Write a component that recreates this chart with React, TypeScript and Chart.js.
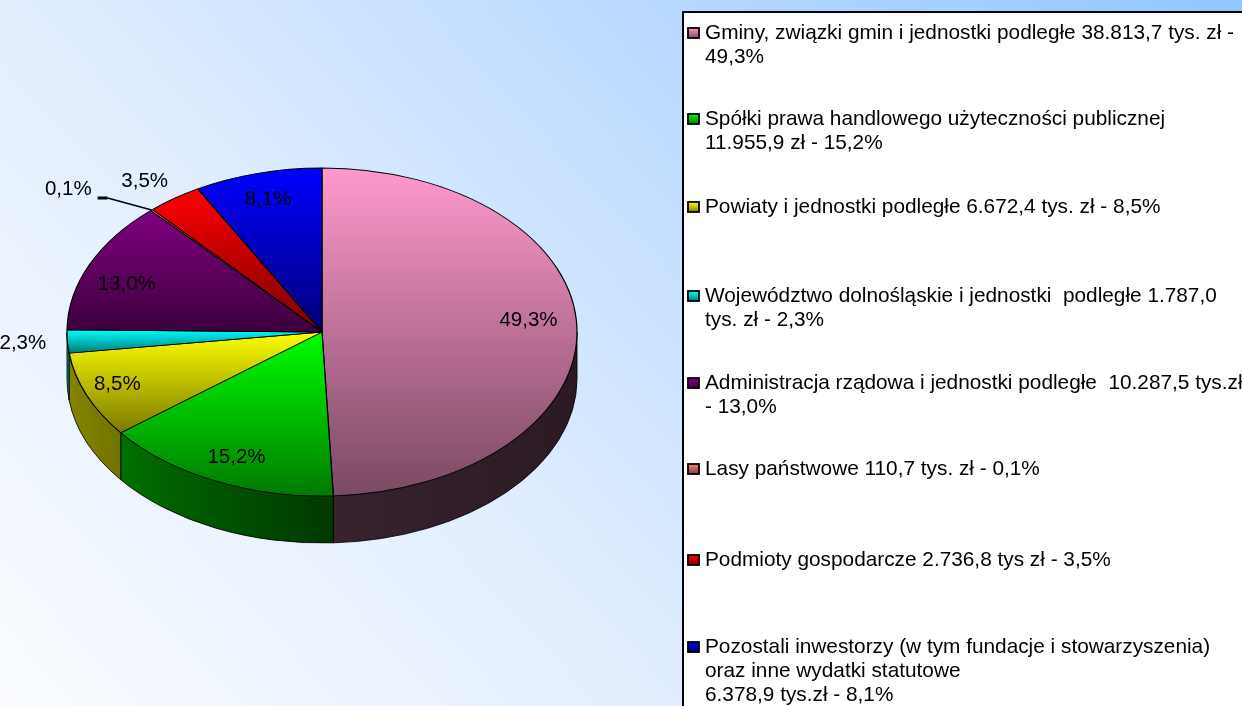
import React, { useEffect, useRef } from 'react';
import { Chart, registerables } from 'chart.js';

Chart.register(...registerables);

// ---------- data ----------
const categories = [
  'Gminy, związki gmin i jednostki podległe',
  'Spółki prawa handlowego użyteczności publicznej',
  'Powiaty i jednostki podległe',
  'Województwo dolnośląskie i jednostki podległe',
  'Administracja rządowa i jednostki podległe',
  'Lasy państwowe',
  'Podmioty gospodarcze',
  'Pozostali inwestorzy (w tym fundacje i stowarzyszenia) oraz inne wydatki statutowe',
];
const values = [38813.7, 11955.9, 6672.4, 1787.0, 10287.5, 110.7, 2736.8, 6378.9];
const percentLabels = ['49,3%', '15,2%', '8,5%', '2,3%', '13,0%', '0,1%', '3,5%', '8,1%'];
const sliceColors = ['#FF99CC', '#00FF00', '#FFFF00', '#00FFFF', '#800080', '#FF8080', '#FF0000', '#0000FF'];
const legendLines = [
  ['Gminy, związki gmin i jednostki podległe 38.813,7 tys. zł -', '49,3%'],
  ['Spółki prawa handlowego użyteczności publicznej', '11.955,9 zł - 15,2%'],
  ['Powiaty i jednostki podległe 6.672,4 tys. zł - 8,5%'],
  ['Województwo dolnośląskie i jednostki  podległe 1.787,0', 'tys. zł - 2,3%'],
  ['Administracja rządowa i jednostki podległe  10.287,5 tys.zł', '- 13,0%'],
  ['Lasy państwowe 110,7 tys. zł - 0,1%'],
  ['Podmioty gospodarcze 2.736,8 tys zł - 3,5%'],
  ['Pozostali inwestorzy (w tym fundacje i stowarzyszenia)', 'oraz inne wydatki statutowe', '6.378,9 tys.zł - 8,1%'],
];

// ---------- layout ----------
const W = 1242;
const H = 706;
const PIE = { cx: 322, cy: 332, rx: 255, ry: 164, depth: 47 };
const FONT = '"Liberation Sans", Arial, sans-serif';
// label placement: [radius factor, dy]
const labelPlace: [number, number][] = [
  [0.81, -9], [0.8, 6], [0.87, -3], [1.175, 0], [0.84, 9], [1.0, 0], [1.2, 10], [0.84, 1],
];
const LEGEND = { left: 683, top: 12, markerX: 688, textX: 705, lineH: 24 };
const legendTops = [33, 119, 207, 296, 383, 469, 560, 647];
const wallStops: [number, number][] = [[0, 0.52], [0.1, 0.45], [0.2, 0.38], [0.52, 0.22], [1, 0.17]];

function shade(hex: string, f: number) {
  const n = parseInt(hex.slice(1), 16);
  const r = (n >> 16) & 255, g = (n >> 8) & 255, b = n & 255;
  return `rgb(${Math.round(r * f)},${Math.round(g * f)},${Math.round(b * f)})`;
}

function sliceGradient(c: any) {
  const i = c.dataIndex;
  const chart = c.chart;
  const area = chart.chartArea;
  if (i == null || !area) return sliceColors[i ?? 0];
  const total = values.reduce((a, b) => a + b, 0);
  let a0 = -Math.PI / 2;
  for (let k = 0; k < i; k++) a0 += (values[k] / total) * Math.PI * 2;
  const a1 = a0 + (values[i] / total) * Math.PI * 2;
  const sins = [0, Math.sin(a0), Math.sin(a1)];
  for (const t of [-Math.PI / 2, Math.PI / 2, (3 * Math.PI) / 2]) if (t > a0 && t < a1) sins.push(Math.sin(t));
  const cy = (area.top + area.bottom) / 2;
  const R = PIE.rx;
  const y0 = cy + R * Math.min(...sins);
  const y1 = cy + R * Math.max(...sins);
  const g = chart.ctx.createLinearGradient(0, y0, 0, y1 + 0.01);
  g.addColorStop(0, shade(sliceColors[i], 1));
  g.addColorStop(1, shade(sliceColors[i], 0.48));
  return g;
}

const pie3d = {
  id: 'pie3d',
  beforeDatasetsDraw(chart: any) {
    const ctx = chart.ctx;
    const arcs = chart.getDatasetMeta(0).data;
    if (!arcs.length) return;
    const { x: cx, y: cy, outerRadius: R } = arcs[0];
    const s = PIE.ry / PIE.rx;
    const ry = R * s;
    const d = PIE.depth;
    arcs.forEach((arc: any, i: number) => {
      const lo = Math.max(arc.startAngle, 0);
      const hi = Math.min(arc.endAngle, Math.PI);
      if (hi <= lo) return;
      ctx.save();
      ctx.beginPath();
      ctx.ellipse(cx, cy, R, ry, 0, lo, hi);
      ctx.ellipse(cx, cy + d, R, ry, 0, hi, lo, true);
      ctx.closePath();
      const g = ctx.createLinearGradient(cx - R, 0, cx + R, 0);
      wallStops.forEach(([p, f]) => g.addColorStop(p, shade(sliceColors[i], f)));
      ctx.fillStyle = g;
      ctx.fill();
      ctx.lineWidth = 1;
      ctx.strokeStyle = 'rgba(0,0,0,0.85)';
      ctx.stroke();
      ctx.restore();
    });
    ctx.save();
    ctx.translate(0, cy);
    ctx.scale(1, s);
    ctx.translate(0, -cy);
  },
  afterDatasetsDraw(chart: any) {
    const ctx = chart.ctx;
    const arcs = chart.getDatasetMeta(0).data;
    if (!arcs.length) return;
    ctx.restore();
    const { x: cx, y: cy, outerRadius: R } = arcs[0];
    const ry = R * (PIE.ry / PIE.rx);
    ctx.save();
    ctx.font = `20.5px ${FONT}`;
    ctx.fillStyle = '#000';
    ctx.textBaseline = 'middle';
    arcs.forEach((arc: any, i: number) => {
      const mid = (arc.startAngle + arc.endAngle) / 2;
      const [rf, dy] = labelPlace[i];
      if (i === 5) {
        const ex = cx + Math.cos(mid) * R;
        const ey = cy + Math.sin(mid) * ry;
        ctx.strokeStyle = '#000';
        ctx.lineWidth = 1.5;
        ctx.beginPath();
        ctx.moveTo(ex, ey);
        ctx.lineTo(ex - 44, ey - 12);
        ctx.stroke();
        ctx.lineWidth = 3;
        ctx.beginPath();
        ctx.moveTo(ex - 44, ey - 12);
        ctx.lineTo(ex - 54, ey - 12);
        ctx.stroke();
        ctx.textAlign = 'right';
        ctx.fillText(percentLabels[i], ex - 60, ey - 21);
        return;
      }
      const x = cx + Math.cos(mid) * R * rf;
      const y = cy + Math.sin(mid) * ry * rf + dy;
      ctx.textAlign = 'center';
      ctx.fillText(percentLabels[i], x, y);
    });
    ctx.restore();
  },
  afterDraw(chart: any) {
    const ctx = chart.ctx;
    ctx.save();
    ctx.fillStyle = '#fff';
    ctx.fillRect(LEGEND.left, LEGEND.top, W - LEGEND.left + 10, H);
    ctx.strokeStyle = '#000';
    ctx.lineWidth = 2;
    ctx.strokeRect(LEGEND.left, LEGEND.top, W - LEGEND.left + 10, H);
    ctx.font = `20.8px ${FONT}`;
    ctx.textBaseline = 'middle';
    ctx.textAlign = 'left';
    legendLines.forEach((lines, i) => {
      const y0 = legendTops[i];
      const g = ctx.createLinearGradient(0, y0 - 5, 0, y0 + 5);
      g.addColorStop(0, shade(sliceColors[i], 1));
      g.addColorStop(1, shade(sliceColors[i], 0.5));
      ctx.fillStyle = g;
      ctx.fillRect(LEGEND.markerX, y0 - 5, 11, 10);
      ctx.lineWidth = 1.8;
      ctx.strokeStyle = '#000';
      ctx.strokeRect(LEGEND.markerX, y0 - 5, 11, 10);
      ctx.fillStyle = '#000';
      lines.forEach((t, k) => ctx.fillText(t, LEGEND.textX, y0 + k * LEGEND.lineH));
    });
    ctx.restore();
  },
};

export default function App() {
  const ref = useRef<HTMLCanvasElement | null>(null);
  useEffect(() => {
    if (!ref.current) return;
    const chart = new Chart(ref.current, {
      type: 'pie',
      data: {
        labels: categories,
        datasets: [
          {
            data: values,
            backgroundColor: sliceGradient as any,
            borderColor: '#000',
            borderWidth: 1.2,
            hoverOffset: 0,
            radius: PIE.rx,
            clip: false,
          } as any,
        ],
      },
      options: {
        responsive: false,
        animation: false,
        events: [],
        layout: {
          padding: {
            left: PIE.cx - PIE.rx,
            right: W - (PIE.cx + PIE.rx),
            top: PIE.cy - PIE.rx,
            bottom: H - (PIE.cy + PIE.rx),
          },
        },
        plugins: { legend: { display: false }, tooltip: { enabled: false } },
      },
      plugins: [pie3d],
    });
    return () => chart.destroy();
  }, []);
  return (
    <div
      style={{
        position: 'fixed',
        left: 0,
        top: 0,
        width: W,
        height: H,
        overflow: 'hidden',
        background:
          'linear-gradient(47deg, rgb(250,252,255) 0%, rgb(226,238,254) 35%, rgb(183,216,255) 70%, rgb(146,198,255) 100%)',
      }}
    >
      <canvas ref={ref} width={W} height={H} style={{ width: W, height: H, display: 'block' }} />
    </div>
  );
}
